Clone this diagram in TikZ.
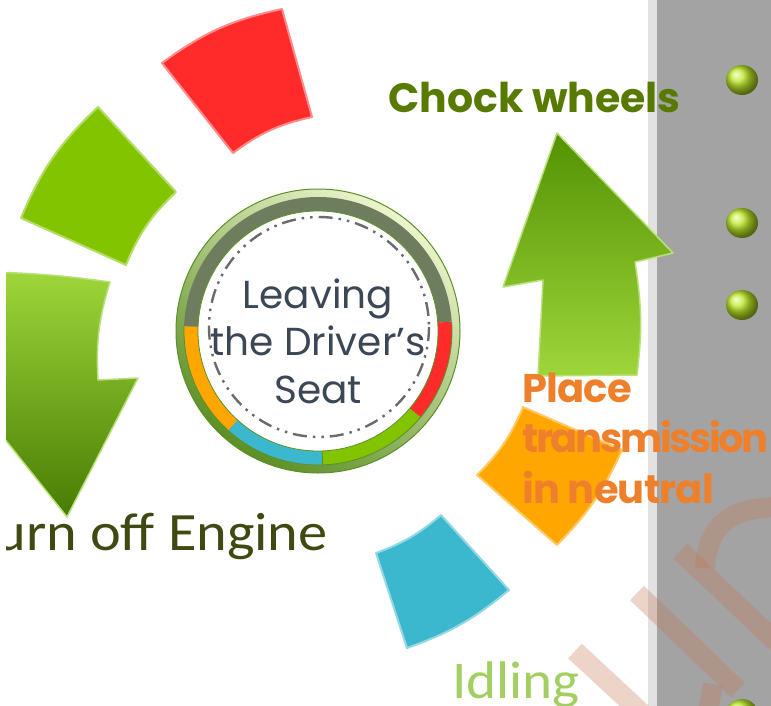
\documentclass[tikz,border=0pt]{standalone}
\usepackage{fontspec}
\setmainfont{Poppins}
\newfontfamily\thinfont{Carlito}[FakeStretch=1.08]
\usetikzlibrary{calc}

\definecolor{panelgray}{RGB}{163,163,163}
\definecolor{striplight}{RGB}{226,226,226}
\definecolor{chockgreen}{RGB}{88,122,0}
\definecolor{placeorange}{RGB}{238,128,44}
\definecolor{seattext}{RGB}{59,71,84}
\definecolor{enginetext}{RGB}{62,74,18}
\definecolor{idlegreen}{RGB}{163,207,98}
\definecolor{segred}{RGB}{255,43,43}
\definecolor{seggreen}{RGB}{131,196,0}
\definecolor{segorange}{RGB}{255,166,0}
\definecolor{segblue}{RGB}{60,184,206}
\definecolor{bandgray}{RGB}{110,125,94}
\definecolor{rimdark}{RGB}{92,143,37}
\definecolor{rimlight}{RGB}{236,245,205}
\definecolor{arrowdark}{RGB}{84,146,4}
\definecolor{arrowlight}{RGB}{158,214,58}
\definecolor{arrowedge}{RGB}{186,224,122}
\definecolor{ballgreen}{RGB}{190,234,40}
\definecolor{markbrown}{RGB}{196,120,88}

\begin{document}
\begin{tikzpicture}[
        x=1pt, y=-1pt,
        sector/.style={
            line width=2pt,
            line join=round
        },
        bigarrow/.style={
            draw=arrowedge,
            line width=1.5pt,
            line join=round
        },
        bandseg/.style={
            line width=14pt
        },
        wmark/.style={
            draw=markbrown,
            line width=20pt,
            opacity=.32
        },
        label/.style={
            inner sep=0pt,
            anchor=base west
        },
        seatlabel/.style={
            inner sep=0pt,
            anchor=base,
            text=seattext,
            font=\fontsize{39}{47}\selectfont
        },
        placelabel/.style={
            label,
            text=placeorange,
            font=\fontsize{40}{48}\selectfont\bfseries\addfontfeatures{LetterSpace=#1}
        },
        placelabel/.default=-2
    ]

    \useasboundingbox (0,0) rectangle (771,706);
    \clip (6,0) rectangle (771,706);

    % side panel
    \fill[striplight] (648,0) rectangle (657,706);
    \fill[panelgray] (657,0) rectangle (771,706);

    % outer ring of steps
    \draw[sector, fill=segred, draw=segred!55!white]
        (233,153) -- (162,63) to[bend left=12] (282,9)
        -- (312,117) to[bend right=12] (233,153) -- cycle;
    \draw[sector, fill=seggreen, draw=seggreen!60!white]
        (126,265) -- (21,218) to[bend left=12] (98,107)
        -- (176,192) to[bend right=12] (126,265) -- cycle;
    \draw[sector, fill=segorange, draw=segorange!60!white]
        (523,407) -- (622,450) to[bend left=10] (557,545)
        -- (477,475) to[bend right=11] (523,407) -- cycle;
    \draw[sector, fill=segblue, draw=segblue!55!white]
        (441,515) -- (509,590) to[bend left=10] (407,648)
        -- (376,553) to[bend right=10] (441,515) -- cycle;

    \shadedraw[bigarrow, top color=arrowdark, bottom color=arrowlight]
        (557,133) -- (673,253) -- (635,262) to[bend left=8] (637,375)
        -- (538,376) -- (543,280) -- (503,287) -- cycle;
    \shadedraw[bigarrow, top color=arrowlight, bottom color=arrowdark!85!black]
        (-8,272) to[bend left=3] (110,282) to[bend right=10] (98,380)
        -- (138,378) -- (67,517) -- (-40,383) -- (-6,385) -- cycle;

    % hub
    \coordinate (hub) at (318,331);
    \shade[top color=rimlight, bottom color=rimdark, shading angle=-35] (hub) circle (142);
    \draw[rimdark, line width=1pt] (hub) circle (142);
    \draw[bandseg, bandgray] ([shift={(-4:127)}]hub) arc[start angle=-4, end angle=-178, radius=127];
    \draw[bandseg, segorange] ([shift={(-178:127)}]hub) arc[start angle=-178, end angle=-228, radius=127];
    \draw[bandseg, segblue] ([shift={(-228:127)}]hub) arc[start angle=-228, end angle=-272, radius=127];
    \draw[bandseg, seggreen] ([shift={(-272:127)}]hub) arc[start angle=-272, end angle=-320, radius=127];
    \draw[bandseg, segred] ([shift={(-320:127)}]hub) arc[start angle=-320, end angle=-364, radius=127];
    \draw[rimdark, line width=.8pt] ([shift={(-178:134)}]hub) arc[start angle=-178, end angle=-364, radius=134];
    \draw[rimdark, line width=.8pt] ([shift={(-272:120)}]hub) -- ([shift={(-272:134)}]hub);
    \fill[white] (hub) circle (120);
    \draw[rimdark, line width=.8pt] (hub) circle (120);
    \draw[black!58, line width=2.4pt,
        dash pattern=on 14pt off 6pt on 2.5pt off 6pt on 2.5pt off 6pt]
        (319,327) circle (110);

    % watermark
    \draw[wmark] (575,651) -- (645,716);
    \draw[wmark] (637,593) -- (738,690);
    \draw[wmark] (713,684) -- (708,712);
    \draw[wmark] (680,551) -- (790,655);
    \draw[wmark] (705,568) .. controls (708,520) and (735,508) .. (780,507);

    % texts
    \node[seatlabel] (seat1) at (318,308) {Leaving};
    \node[seatlabel] (seat2) at (318,355) {the Driver’s};
    \node[seatlabel] (seat3) at (318,403) {Seat};

    \node[label, text=chockgreen, font=\fontsize{41}{48}\selectfont\bfseries]
        (chock) at (388,113) {Chock wheels};
    \node[placelabel] (place1) at (522,402) {Place};
    \node[placelabel=-6] (place2) at (522,452) {transmission};
    \node[placelabel] (place3) at (522,503) {in neutral};
    \node[label, anchor=base east, text=enginetext, font=\thinfont\fontsize{54}{60}\selectfont]
        (engine) at (328,550) {Turn off Engine};
    \node[label, text=idlegreen, font=\thinfont\fontsize{53}{60}\selectfont]
        (idle) at (452,698) {Idling};

    % bullets
    \shade[ball color=ballgreen] (742,80) circle [x radius=16, y radius=15];
    \shade[ball color=ballgreen] (742,223) circle [x radius=16, y radius=15];
    \shade[ball color=ballgreen] (742,305) circle [x radius=16, y radius=15];
    \shade[ball color=ballgreen] (742,714) circle [x radius=16, y radius=15];

\end{tikzpicture}
\end{document}
